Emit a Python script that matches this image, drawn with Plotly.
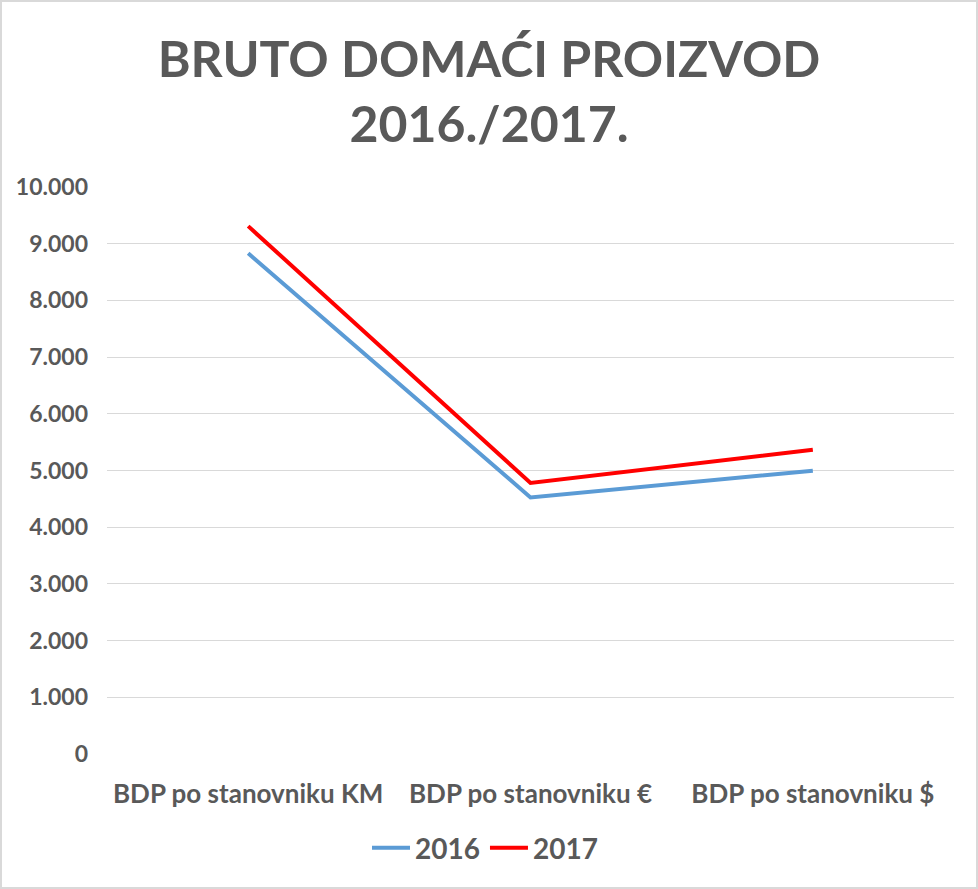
import plotly.graph_objects as go

categories = ["BDP po stanovniku KM", "BDP po stanovniku €", "BDP po stanovniku $"]
values_2016 = [8830, 4525, 4996]
values_2017 = [9310, 4780, 5366]
series_names = ["2016", "2017"]
y_ticks = [0, 1000, 2000, 3000, 4000, 5000, 6000, 7000, 8000, 9000, 10000]

W, H = 978, 889
L, R, T, B = 107, 24, 187, 135
pw, ph = W - L - R, H - T - B

FONT = "Lato"
GRAY = "#595959"

fig = go.Figure()
fig.add_trace(go.Scatter(x=categories, y=values_2016, name=series_names[0], mode="lines",
                         line=dict(color="#5B9BD5", width=4)))
fig.add_trace(go.Scatter(x=categories, y=values_2017, name=series_names[1], mode="lines",
                         line=dict(color="#FF0000", width=4)))

fig.update_layout(
    width=W, height=H,
    margin=dict(l=L, r=R, t=T, b=B),
    paper_bgcolor="white", plot_bgcolor="white",
    separators=",.",
    title=dict(text="<b>BRUTO DOMAĆI PROIZVOD<br>2016./2017.</b>",
               x=0.5, xref="container", xanchor="center",
               y=1 - 77 / H, yref="container", yanchor="middle",
               font=dict(family=FONT, size=50, color=GRAY)),
    showlegend=True,
    legend=dict(orientation="h", x=(485 - L) / pw, xanchor="center",
                y=-(848 - (T + ph)) / ph, yanchor="middle",
                font=dict(family=FONT, size=28, color=GRAY),
                itemwidth=38, traceorder="normal"),
    xaxis=dict(showgrid=False, showline=False, zeroline=False, ticks="",
               tickfont=dict(family=FONT, size=26, color=GRAY),
               ticklabelstandoff=22,
               range=[-0.5, 2.5], fixedrange=True),
    yaxis=dict(range=[0, 10000], tickvals=y_ticks, tickformat=",d",
               showgrid=True, gridcolor="#D9D9D9", gridwidth=1,
               zeroline=False, showline=False, ticks="",
               tickfont=dict(family=FONT, size=23, color=GRAY),
               ticklabelstandoff=18),
)
fig.update_xaxes(tickfont_weight="bold")
fig.update_yaxes(tickfont_weight="bold")
fig.update_layout(legend_font_weight="bold")

# chart border
fig.add_shape(type="rect", xref="paper", yref="paper",
              x0=-(L - 1) / pw, x1=1 + (R - 1) / pw,
              y0=-(B - 1) / ph, y1=1 + (T - 1) / ph,
              line=dict(color="#D9D9D9", width=2), fillcolor="rgba(0,0,0,0)", layer="below")

fig.write_html("out.html")
